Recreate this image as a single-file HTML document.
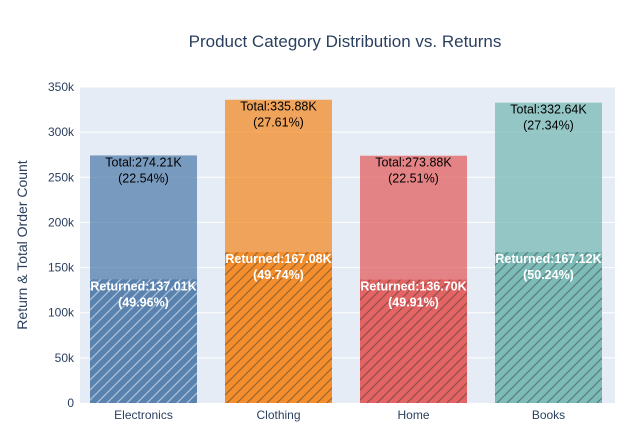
<!DOCTYPE html>
<html><head><meta charset="utf-8"><style>
body{margin:0;background:#fff;font-family:"Liberation Sans",sans-serif}
</style></head><body>
<svg id="c" width="643" height="439" xmlns="http://www.w3.org/2000/svg">
<defs>
<pattern id="pw" patternUnits="userSpaceOnUse" width="10" height="10"><path d="M-1,11 L11,-1 M-6,6 L6,-6 M4,16 L16,4" stroke="#fff" stroke-opacity="0.5" stroke-width="1.3"/></pattern>
<pattern id="pd" patternUnits="userSpaceOnUse" width="10" height="10"><path d="M-1,11 L11,-1 M-6,6 L6,-6 M4,16 L16,4" stroke="#333" stroke-opacity="0.45" stroke-width="1.3"/></pattern>
</defs>
<rect x="80" y="87" width="535" height="316" fill="#E5ECF6"/>
<g id="grid"></g><g id="bars"></g><g id="labels"></g>
<text x="345" y="47" text-anchor="middle" font-size="17" fill="#2a3f5f">Product Category Distribution vs. Returns</text>
<text transform="translate(27,245) rotate(-90)" text-anchor="middle" font-size="14" fill="#2a3f5f">Return &amp; Total Order Count</text>
</svg>
<script>
const categories=["Electronics","Clothing","Home","Books"];
const totals=[274.21,335.88,273.88,332.64];
const totalPct=["22.54%","27.61%","22.51%","27.34%"];
const returned=[137.01,167.08,136.70,167.12];
const returnedPct=["49.96%","49.74%","49.91%","50.24%"];
const yTicks=[0,50,100,150,200,250,300,350];
const colors=["#4C78A8","#F58518","#E45756","#72B7B2"];
const pats=["url(#pw)","url(#pd)","url(#pd)","url(#pd)"];
const NS="http://www.w3.org/2000/svg";
const X0=76,W=540,Y0=403,H=316,YMAX=350;
const y=v=>Y0-v/YMAX*H;
const band=W/categories.length, bw=107;
const xc=i=>X0+band*(i+0.5);
function mk(tag,attrs,parent){const e=document.createElementNS(NS,tag);for(const k in attrs)e.setAttribute(k,attrs[k]);document.getElementById(parent).appendChild(e);return e;}
yTicks.forEach(t=>{
 if(t>0){const l=mk("line",{x1:80,x2:615,y1:y(t),y2:y(t),stroke:"#fff","stroke-width":1},"grid");
 
 }
 const tx=mk("text",{x:74,y:y(t)+4,"text-anchor":"end","font-size":12,fill:"#2a3f5f"},"grid");
 tx.textContent=t===0?"0":t+"k";
 
 
});
categories.forEach((c,i)=>{
 const x=xc(i)-bw/2;
 const tb=mk("rect",{x:x,y:y(totals[i]),width:bw,height:Y0-y(totals[i]),fill:colors[i],"fill-opacity":0.7},"bars");
 
 
 const rb=mk("rect",{x:x,y:y(returned[i]),width:bw,height:Y0-y(returned[i]),fill:colors[i],"fill-opacity":0.7},"bars");
 
 
 mk("rect",{x:x,y:y(returned[i]),width:bw,height:Y0-y(returned[i]),fill:pats[i]},"bars");
 const t1=mk("text",{x:xc(i),y:y(totals[i])+11,"text-anchor":"middle","font-size":12.5,fill:"#000"},"labels");
 t1.innerHTML='<tspan x="'+xc(i)+'">Total:'+totals[i].toFixed(2)+'K</tspan><tspan x="'+xc(i)+'" dy="16">('+totalPct[i]+')</tspan>';
 
 
 const t2=mk("text",{x:xc(i),y:y(returned[i])+11,"text-anchor":"middle","font-size":12.5,fill:"#fff","font-weight":"bold"},"labels");
 t2.innerHTML='<tspan x="'+xc(i)+'">Returned:'+returned[i].toFixed(2)+'K</tspan><tspan x="'+xc(i)+'" dy="16">('+returnedPct[i]+')</tspan>';
 
 
 const xl=mk("text",{x:xc(i),y:Y0+16,"text-anchor":"middle","font-size":12,fill:"#2a3f5f"},"labels");
 xl.textContent=c;
 
 
});
</script>
</body></html>
